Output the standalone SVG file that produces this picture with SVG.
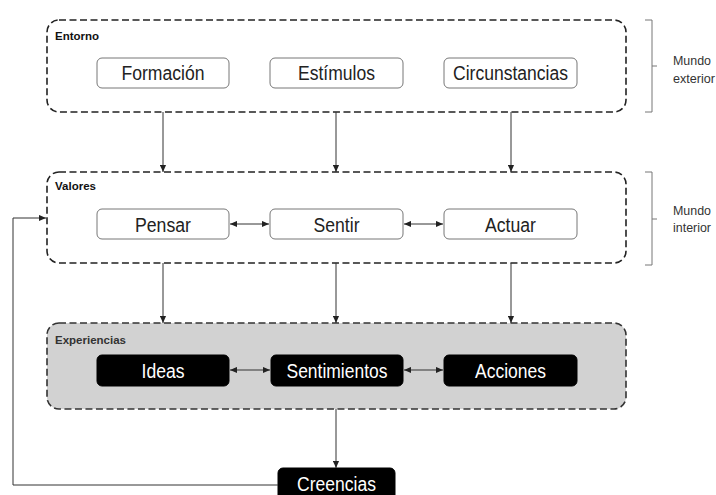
<svg xmlns="http://www.w3.org/2000/svg" width="716" height="495" viewBox="0 0 716 495">
<defs>
<marker id="ah" viewBox="0 0 8 8" refX="8" refY="4" markerWidth="7" markerHeight="7" markerUnits="userSpaceOnUse" orient="auto-start-reverse">
<path d="M0,0.5 L8,4 L0,7.5 Z" fill="#222"/>
</marker>
</defs>
<style>
.grp{fill:#fff;stroke:#222;stroke-width:1.6;stroke-dasharray:7 3.5}
.grp.exp{fill:#d2d2d2;stroke:#333}
.lbl{font-family:"Liberation Sans",Arial,sans-serif;font-weight:bold;font-size:11.5px;fill:#111}
.lbl.exp{fill:#333}
.wbox{fill:#fff;stroke:#777;stroke-width:1}
.bbox{fill:#000;stroke:#000}
.t{font-family:"Liberation Sans",Arial,sans-serif;font-size:19.5px;text-anchor:middle;fill:#222}
.bt{fill:#fff}
.side{font-family:"Liberation Sans",Arial,sans-serif;font-size:12.5px;fill:#333}
.con{fill:none;stroke:#333;stroke-width:1}
.br{fill:none;stroke:#777;stroke-width:1}
</style>

<g id="entorno">
<rect class="grp" x="47" y="20" width="579" height="92" rx="12"/>
<text class="lbl" x="55" y="40">Entorno</text>
</g>
<g id="formacion"><rect class="wbox" x="97" y="58" width="132" height="30" rx="5"/><text class="t" x="163" y="80" textLength="83" lengthAdjust="spacingAndGlyphs">Formación</text></g>
<g id="estimulos"><rect class="wbox" x="270" y="58" width="133" height="30" rx="5"/><text class="t" x="336.5" y="80" textLength="77" lengthAdjust="spacingAndGlyphs">Estímulos</text></g>
<g id="circunstancias"><rect class="wbox" x="444" y="58" width="133" height="30" rx="5"/><text class="t" x="510.5" y="80" textLength="115" lengthAdjust="spacingAndGlyphs">Circunstancias</text></g>

<g id="valores">
<rect class="grp" x="47" y="172" width="579" height="91" rx="12"/>
<text class="lbl" x="55" y="190">Valores</text>
</g>
<g id="pensar"><rect class="wbox" x="97" y="209" width="132" height="30" rx="5"/><text class="t" x="163" y="231.5" textLength="56" lengthAdjust="spacingAndGlyphs">Pensar</text></g>
<g id="sentir"><rect class="wbox" x="270" y="209" width="133" height="30" rx="5"/><text class="t" x="336.5" y="231.5" textLength="46" lengthAdjust="spacingAndGlyphs">Sentir</text></g>
<g id="actuar"><rect class="wbox" x="444" y="209" width="133" height="30" rx="5"/><text class="t" x="510.5" y="231.5" textLength="51" lengthAdjust="spacingAndGlyphs">Actuar</text></g>

<g id="experiencias">
<rect class="grp exp" x="47" y="323" width="579" height="86" rx="12"/>
<text class="lbl exp" x="55" y="344">Experiencias</text>
</g>
<g id="ideas"><rect class="bbox" x="97" y="355" width="132" height="31" rx="5"/><text class="t bt" x="163" y="377.5" textLength="43" lengthAdjust="spacingAndGlyphs">Ideas</text></g>
<g id="sentimientos"><rect class="bbox" x="271" y="355" width="132" height="31" rx="5"/><text class="t bt" x="337" y="377.5" textLength="101" lengthAdjust="spacingAndGlyphs">Sentimientos</text></g>
<g id="acciones"><rect class="bbox" x="444" y="355" width="133" height="31" rx="5"/><text class="t bt" x="510.5" y="377.5" textLength="71" lengthAdjust="spacingAndGlyphs">Acciones</text></g>

<g id="creencias"><rect class="bbox" x="278" y="468" width="117" height="34" rx="5"/><text class="t bt" x="336.5" y="491" textLength="79" lengthAdjust="spacingAndGlyphs">Creencias</text></g>

<g id="mundo-exterior">
<path class="br" d="M645,20 H652 V112 H645 M652,66 H657"/>
<text class="side" x="673" y="65" textLength="38" lengthAdjust="spacingAndGlyphs">Mundo</text>
<text class="side" x="673" y="83" textLength="42" lengthAdjust="spacingAndGlyphs">exterior</text>
</g>
<g id="mundo-interior">
<path class="br" d="M645,172 H652 V265 H645 M652,219 H657"/>
<text class="side" x="673" y="215" textLength="38" lengthAdjust="spacingAndGlyphs">Mundo</text>
<text class="side" x="673" y="232" textLength="38" lengthAdjust="spacingAndGlyphs">interior</text>
</g>

<g id="connectors">
<line class="con" x1="163" y1="112" x2="163" y2="172" marker-end="url(#ah)"/>
<line class="con" x1="336" y1="112" x2="336" y2="172" marker-end="url(#ah)"/>
<line class="con" x1="511" y1="112" x2="511" y2="172" marker-end="url(#ah)"/>
<line class="con" x1="163" y1="263" x2="163" y2="323" marker-end="url(#ah)"/>
<line class="con" x1="336" y1="263" x2="336" y2="323" marker-end="url(#ah)"/>
<line class="con" x1="511" y1="263" x2="511" y2="323" marker-end="url(#ah)"/>
<line class="con" x1="336" y1="409" x2="336" y2="468" marker-end="url(#ah)"/>
<line class="con" x1="230" y1="224" x2="269" y2="224" marker-start="url(#ah)" marker-end="url(#ah)"/>
<line class="con" x1="404" y1="224" x2="443" y2="224" marker-start="url(#ah)" marker-end="url(#ah)"/>
<line class="con" x1="230" y1="370" x2="270" y2="370" marker-start="url(#ah)" marker-end="url(#ah)"/>
<line class="con" x1="404" y1="370" x2="443" y2="370" marker-start="url(#ah)" marker-end="url(#ah)"/>
<path class="con" d="M278,485 H13 V218 H46" marker-end="url(#ah)"/>
</g>
</svg>
